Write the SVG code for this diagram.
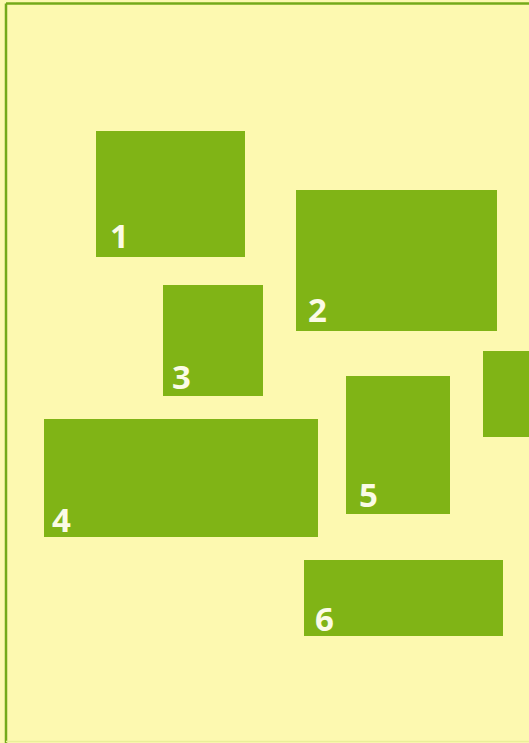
<svg xmlns="http://www.w3.org/2000/svg" width="529" height="743" viewBox="0 0 529 743">
<style>
.box{fill:#80b416}
.lbl{font-family:"Open Sans","Liberation Sans",Arial,sans-serif;font-weight:bold;font-size:33px;fill:#fbfbe6}
.frame{stroke:#74aa1a;stroke-width:2.5;fill:none}
</style>
<rect x="0" y="0" width="529" height="743" fill="#fdf9b0"/>
<line class="frame" x1="6" y1="3.5" x2="529" y2="3.5"/>
<line class="frame" x1="6" y1="3.5" x2="6" y2="743"/>
<line x1="6" y1="741.5" x2="529" y2="741.5" stroke="#e9ef9a" stroke-width="1.5"/>
<g id="node1"><rect class="box" x="96" y="131" width="149" height="126"/><text class="lbl" x="110" y="248">1</text></g>
<g id="node2"><rect class="box" x="296" y="190" width="201" height="141"/><text class="lbl" x="308" y="322">2</text></g>
<g id="node3"><rect class="box" x="163" y="285" width="100" height="111"/><text class="lbl" x="172" y="389">3</text></g>
<g id="node4"><rect class="box" x="44" y="419" width="274" height="118"/><text class="lbl" x="52" y="532">4</text></g>
<g id="node5"><rect class="box" x="346" y="376" width="104" height="138"/><text class="lbl" x="359" y="507">5</text></g>
<g id="node6"><rect class="box" x="304" y="560" width="199" height="76"/><text class="lbl" x="315" y="631">6</text></g>
<g id="node7"><rect class="box" x="483" y="351" width="46" height="86"/></g>
<g id="connectors"></g>
</svg>
